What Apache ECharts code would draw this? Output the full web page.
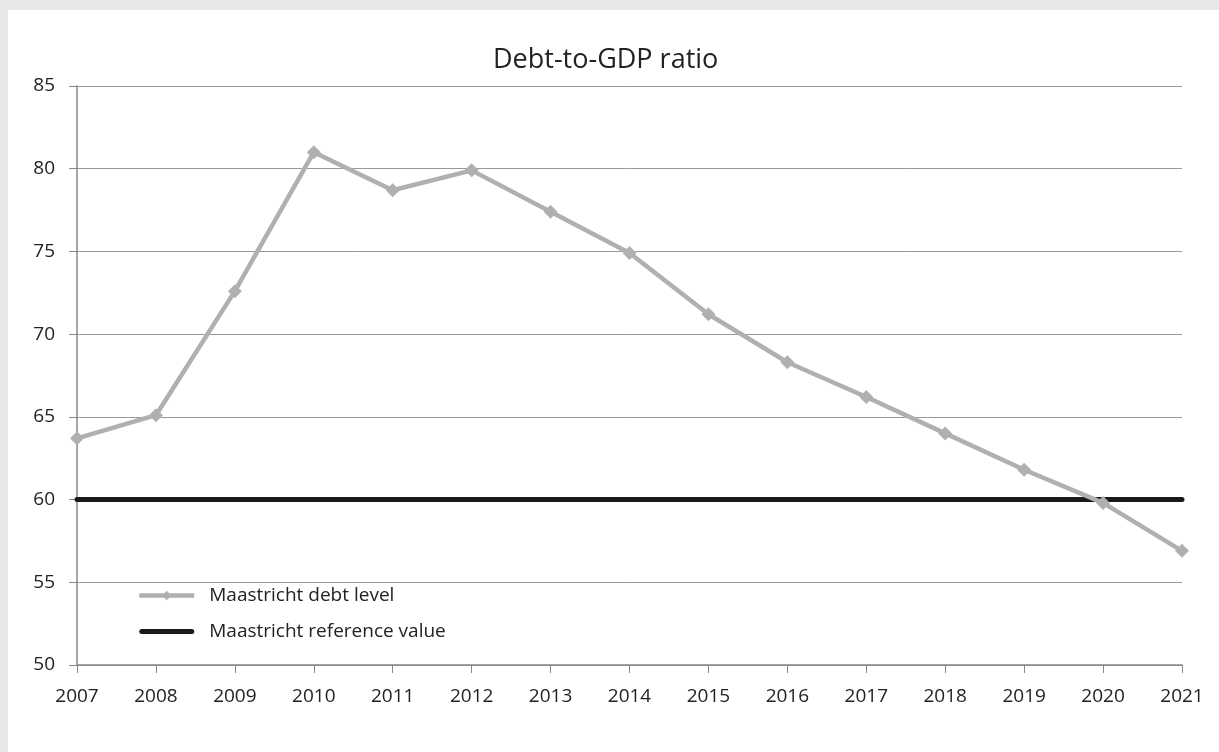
<!DOCTYPE html>
<html>
<head>
<meta charset="utf-8">
<script src="https://cdn.jsdelivr.net/npm/echarts@6/dist/echarts.min.js"></script>
<style>
  html, body { margin: 0; padding: 0; background: #e6e7e9; }
  #wrap { position: absolute; left: 8px; top: 10px; right: 0; bottom: 0; background: #fff; }
  #chart { width: 1211px; height: 742px; }
</style>
</head>
<body>
<div id="wrap"><div id="chart"></div></div>
<script>
var years = ['2007', '2008', '2009', '2010', '2011', '2012', '2013', '2014',
	'2015', '2016', '2017', '2018', '2019', '2020', '2021'];
var debtLevel = [63.7, 65.1, 72.6, 81.0, 78.7, 79.9, 77.4, 74.9, 71.2, 68.3, 66.2, 64.0, 61.8, 59.8, 56.9];
var referenceValue = [60, 60, 60, 60, 60, 60, 60, 60, 60, 60, 60, 60, 60, 60, 60];

var chart = echarts.init(document.getElementById('chart'));

var font = '"Open Sans", "Noto Sans", sans-serif';

chart.setOption({
	animation : false,
	title : {
		text : 'Debt-to-GDP ratio',
		left : 485,
		top : 37,
		padding : 0,
		textStyle : { fontFamily : font, fontSize : 27, fontWeight : 'normal', color : '#222' }
	},
	legend : {
		orient : 'vertical',
		left : 124,
		top : 571,
		itemWidth : 55,
		itemHeight : 12,
		itemGap : 17,
		lineStyle : { width : 'inherit' },
		textStyle : { fontFamily : font, fontSize : 19, color : '#222', padding : [0, 0, 0, 10] },
		data : [
			{ name : 'Maastricht debt level' },
			{
				name : 'Maastricht reference value',
				icon : 'path://M2.5,0L52.5,0A2.5,2.5,0,0,1,52.5,5L2.5,5A2.5,2.5,0,0,1,2.5,0Z'
			}
		]
	},
	grid : { left : 69, right : 37, top : 76, bottom : 87 },
	xAxis : {
		type : 'category',
		boundaryGap : false,
		data : years,
		axisLine : { lineStyle : { color : '#888', width : 1.5 } },
		axisTick : { alignWithLabel : true, length : 8, lineStyle : { color : '#888' } },
		axisLabel : { fontFamily : font, fontSize : 19, color : '#222', margin : 22 }
	},
	yAxis : {
		type : 'value',
		min : 50,
		max : 85,
		interval : 5,
		axisLine : { show : true, lineStyle : { color : '#888', width : 1.5 } },
		axisTick : { show : true, length : 8, lineStyle : { color : '#888' } },
		axisLabel : { fontFamily : font, fontSize : 19, color : '#222', margin : 22 },
		splitLine : { lineStyle : { color : '#999', width : 1 } }
	},
	series : [
		{
			name : 'Maastricht reference value',
			type : 'line',
			data : referenceValue,
			symbol : 'none',
			color : '#1a1a1a',
			lineStyle : { color : '#1a1a1a', width : 5, cap : 'round' },
			z : 2
		},
		{
			name : 'Maastricht debt level',
			type : 'line',
			data : debtLevel,
			symbol : 'diamond',
			symbolSize : 14,
			color : '#b0b0b0',
			itemStyle : { color : '#b0b0b0' },
			lineStyle : { color : '#b0b0b0', width : 4.5 },
			z : 3
		}
	]
});
</script>
</body>
</html>
